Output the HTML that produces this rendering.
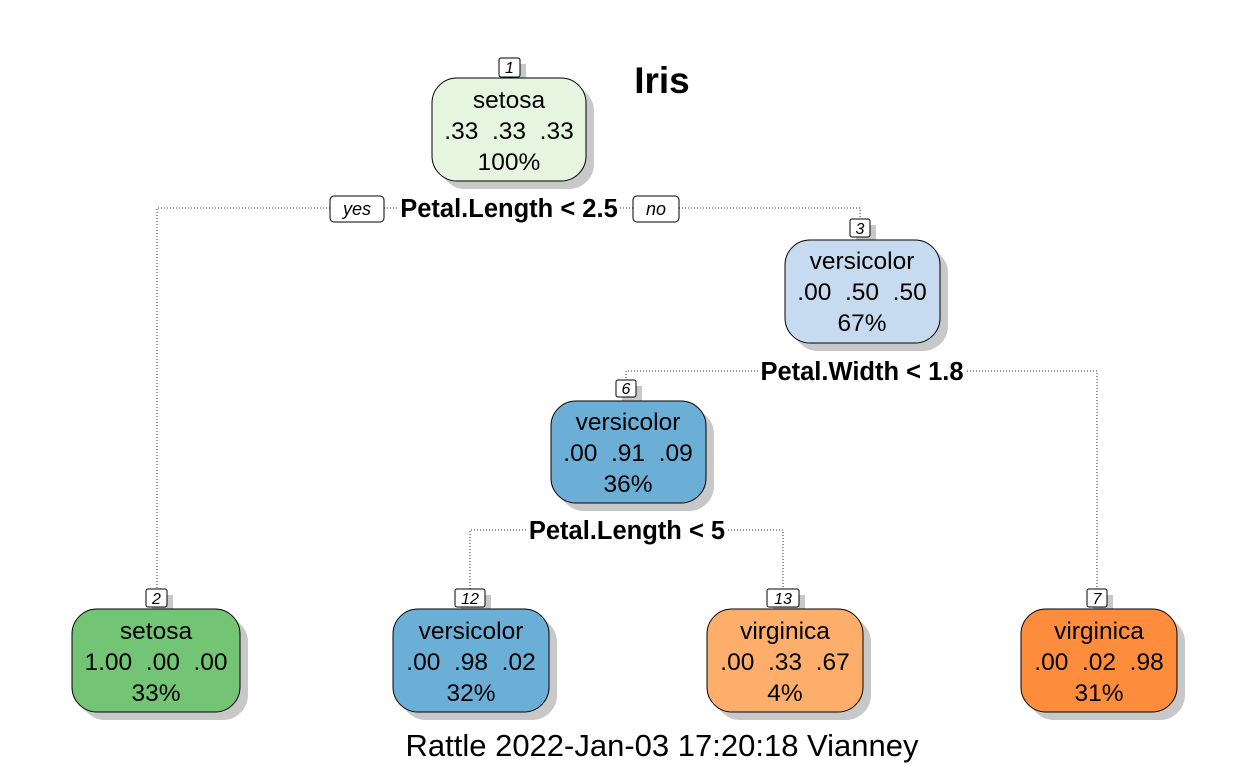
<!DOCTYPE html>
<html><head><meta charset="utf-8"><style>
html,body{margin:0;padding:0;background:#fff;}
svg{display:block;font-family:"Liberation Sans",Arial,sans-serif;}
text{white-space:pre;}
</style></head><body>
<svg width="1248" height="768" viewBox="0 0 1248 768" xmlns="http://www.w3.org/2000/svg" xml:space="preserve">
<g fill="none" stroke="#333" stroke-width="1" stroke-dasharray="1,2">
<polyline points="330,208 157,208 157,589"/>
<polyline points="384,208 398,208"/>
<polyline points="620,208 633,208"/>
<polyline points="679,208 860,208 860,219"/>
<polyline points="758,371 626,371 626,380"/>
<polyline points="967,371 1097,371 1097,589"/>
<polyline points="526,530 470,530 470,589"/>
<polyline points="728,530 783,530 783,589"/>
</g>
<g fill="#c8c8c8">
<rect x="440" y="86" width="154" height="103" rx="25"/>
<rect x="793" y="248" width="155" height="103" rx="25"/>
<rect x="559" y="409" width="155" height="102" rx="25"/>
<rect x="80" y="617" width="168" height="103" rx="25"/>
<rect x="401" y="617" width="156" height="103" rx="25"/>
<rect x="715" y="617" width="156" height="103" rx="25"/>
<rect x="1029" y="617" width="156" height="103" rx="25"/>
<rect x="505" y="64" width="21" height="19"/>
<rect x="856" y="225" width="20" height="18"/>
<rect x="622" y="386" width="20" height="17"/>
<rect x="152" y="595" width="21" height="18"/>
<rect x="461" y="595" width="30" height="18"/>
<rect x="773" y="595" width="32" height="18"/>
<rect x="1093" y="595" width="20" height="18"/>
</g>
<g stroke="#000" stroke-width="1">
<rect x="432" y="78" width="154" height="103" rx="25" fill="#e5f5e0"/>
<rect x="785" y="240" width="155" height="103" rx="25" fill="#c6dbef"/>
<rect x="551" y="401" width="155" height="102" rx="25" fill="#6baed6"/>
<rect x="72" y="609" width="168" height="103" rx="25" fill="#74c476"/>
<rect x="393" y="609" width="156" height="103" rx="25" fill="#6baed6"/>
<rect x="707" y="609" width="156" height="103" rx="25" fill="#fdae6b"/>
<rect x="1021" y="609" width="156" height="103" rx="25" fill="#fd8d3c"/>
<g fill="#fff">
<rect x="499" y="58" width="21" height="19" rx="2"/>
<rect x="850" y="219" width="20" height="18" rx="2"/>
<rect x="616" y="380" width="20" height="17" rx="2"/>
<rect x="146" y="589" width="21" height="18" rx="2"/>
<rect x="455" y="589" width="30" height="18" rx="2"/>
<rect x="767" y="589" width="32" height="18" rx="2"/>
<rect x="1087" y="589" width="20" height="18" rx="2"/>
<rect x="330" y="196" width="54" height="26" rx="4"/>
<rect x="633" y="196" width="46" height="26" rx="4"/>
</g>
</g>
<g font-size="16" font-style="italic" text-anchor="middle" fill="#000">
<text x="509.5" y="73">1</text><text x="860" y="234">3</text><text x="626" y="394">6</text>
<text x="156.5" y="604">2</text><text x="470" y="604">12</text><text x="783" y="604">13</text><text x="1097" y="604">7</text>
<text x="357" y="215" font-size="18">yes</text><text x="656" y="215" font-size="18">no</text>
</g>
<g font-size="24.5" text-anchor="middle" fill="#000">
<text x="509" y="108">setosa</text><text x="509" y="139">.33  .33  .33</text><text x="509" y="170">100%</text>
<text x="862" y="269">versicolor</text><text x="862" y="300">.00  .50  .50</text><text x="862" y="331">67%</text>
<text x="628" y="430">versicolor</text><text x="628" y="461">.00  .91  .09</text><text x="628" y="492">36%</text>
<text x="156" y="639">setosa</text><text x="156" y="670">1.00  .00  .00</text><text x="156" y="701">33%</text>
<text x="471" y="639">versicolor</text><text x="471" y="670">.00  .98  .02</text><text x="471" y="701">32%</text>
<text x="785" y="639">virginica</text><text x="785" y="670">.00  .33  .67</text><text x="785" y="701">4%</text>
<text x="1099" y="639">virginica</text><text x="1099" y="670">.00  .02  .98</text><text x="1099" y="701">31%</text>
</g>
<g font-size="25.5" font-weight="bold" text-anchor="middle" fill="#000">
<text x="509" y="217">Petal.Length &lt; 2.5</text>
<text x="862" y="380">Petal.Width &lt; 1.8</text>
<text x="627" y="539">Petal.Length &lt; 5</text>
</g>
<text x="662" y="93" font-size="37" font-weight="bold" text-anchor="middle">Iris</text>
<text x="662" y="756" font-size="31" text-anchor="middle">Rattle 2022-Jan-03 17:20:18 Vianney</text>
</svg>
</body></html>
